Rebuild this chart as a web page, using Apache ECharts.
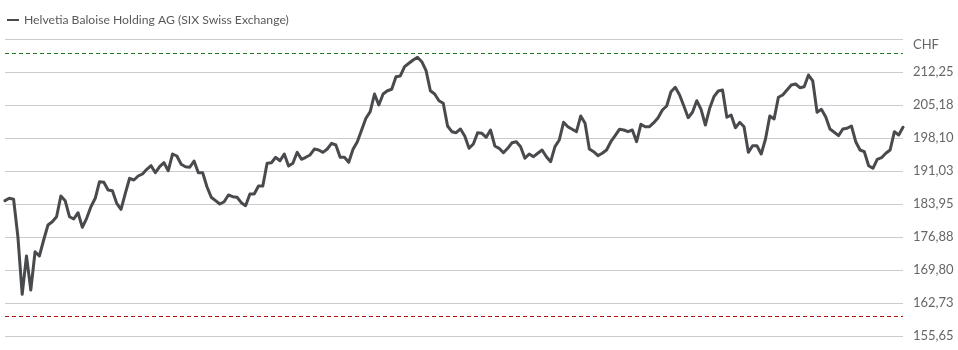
<!DOCTYPE html>
<html>
<head>
<meta charset="utf-8">
<script src="https://cdn.jsdelivr.net/npm/echarts@6/dist/echarts.min.js"></script>
<style>
html,body{margin:0;padding:0;background:#fff;}
#chart{width:958px;height:350px;}
</style>
</head>
<body>
<div id="chart"></div>
<script>
const seriesName = 'Helvetia Baloise Holding AG (SIX Swiss Exchange)';
const prices = [
  184.69,185.20,184.99,176.96,164.60,172.82,165.52,173.74,172.82,176.25,
  179.47,180.18,181.25,185.70,184.69,181.25,180.76,182.11,178.98,180.91,
  183.40,185.20,188.76,188.64,186.98,186.83,184.13,182.84,186.28,189.50,
  189.13,189.99,190.42,191.43,192.20,190.70,191.98,192.84,191.13,194.71,
  194.28,192.50,191.98,
  191.86,193.21,190.70,190.70,187.69,185.42,184.69,183.98,184.47,185.91,
  185.55,185.42,184.26,183.61,186.13,186.13,187.84,187.84,192.71,192.84,
  194.00,193.27,194.71,192.13,192.71,195.07,193.57,194.00,194.50,195.78,
  195.57,195.07,195.78,197.01,196.64,194.00,194.00,192.93,195.72,
  197.35,199.86,202.37,203.79,207.59,205.23,207.59,208.29,208.60,211.30,
  211.45,213.45,214.18,214.88,215.46,214.52,212.59,208.29,207.59,206.15,
  205.59,200.72,199.50,199.28,200.08,198.57,195.93,196.86,199.28,199.15,
  198.29,199.86,196.43,195.93,194.99,195.93,197.13,197.35,196.28,193.79,
  194.71,194.13,194.86,
  195.57,194.13,193.06,196.28,197.71,201.51,200.57,200.01,199.50,202.87,
  201.30,195.78,195.20,194.35,194.86,195.57,197.35,198.64,200.01,199.86,
  199.50,199.86,197.35,201.08,200.57,200.57,201.43,202.50,204.15,205.01,
  208.08,209.02,207.37,205.01,202.50,203.66,206.15,204.30,200.93,204.52,
  207.01,208.23,
  208.45,202.59,203.08,200.35,201.51,200.57,195.07,196.49,196.49,194.71,
  197.93,202.87,202.22,206.88,207.37,208.45,209.52,209.73,208.94,209.15,
  211.66,210.38,203.66,204.30,202.71,200.08,199.37,198.64,200.08,200.23,
  200.72,197.35,195.57,195.20,192.20,191.64,193.57,193.92,194.86,195.57,
  199.50,198.79,200.44
];
const days = prices.map((_, i) => String(i + 1));
const axisMin = 155.65;
const axisStep = 7.075;
const axisMax = 219.325;
const tickLabels = ['155,65','162,73','169,80','176,88','183,95','191,03','198,10','205,18','212,25','CHF'];
const upperRef = 216.32;
const lowerRef = 159.94;

const chart = echarts.init(document.getElementById('chart'));
chart.setOption({
  animation: false,
  backgroundColor: '#fff',
  textStyle: { fontFamily: 'Lato, "Noto Sans", sans-serif' },
  legend: {
    left: 2, top: 9,
    icon: 'rect', itemWidth: 12, itemHeight: 2, itemGap: 6,
    textStyle: { color: '#5a5a5a', fontSize: 12.2, fontFamily: 'Lato, sans-serif' },
    data: [seriesName]
  },
  grid: { left: 5, right: 55, top: 39.3, bottom: 14, containLabel: false },
  xAxis: {
    type: 'category', data: days, boundaryGap: false,
    axisLine: { show: false }, axisTick: { show: false }, axisLabel: { show: false },
    splitLine: { show: false }
  },
  yAxis: {
    type: 'value', position: 'right', min: axisMin, max: axisMax, interval: axisStep,
    axisLine: { show: false }, axisTick: { show: false },
    axisLabel: {
      color: '#666', fontSize: 13, margin: 10, fontFamily: 'Lato, sans-serif',
      formatter: v => {
        const idx = Math.round((v - axisMin) / axisStep);
        const t = tickLabels[idx] || '';
        return idx === tickLabels.length - 1 ? '{u|' + t + '}' : t;
      },
      rich: { u: { color: '#666', fontSize: 13, fontFamily: 'Lato, sans-serif', padding: [11, 0, 0, 0] } }
    },
    splitLine: { show: true, lineStyle: { color: '#cccccc', width: 1 } }
  },
  series: [{
    name: seriesName, type: 'line', data: prices,
    showSymbol: false, symbol: 'none',
    lineStyle: { color: '#484a4d', width: 3, join: 'round', cap: 'round' },
    itemStyle: { color: '#484a4d' },
    markLine: {
      silent: true, symbol: 'none', label: { show: false },
      data: [
        { yAxis: upperRef, lineStyle: { color: '#1f7a1f', type: [4, 3], width: 1 } },
        { yAxis: lowerRef, lineStyle: { color: '#b01010', type: [4, 3], width: 1 } }
      ]
    }
  }]
});
</script>
</body>
</html>
